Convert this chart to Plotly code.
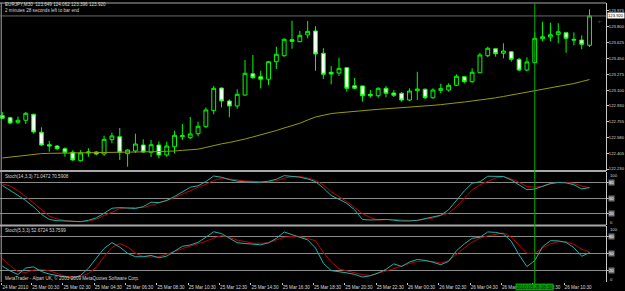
import plotly.graph_objects as go

# ---------------- data ----------------
bars = list(range(76))
opens = [122.819, 122.797, 122.746, 122.768, 122.834, 122.636, 122.498, 122.484, 122.454, 122.415,
         122.322, 122.407, 122.418, 122.396, 122.554, 122.587, 122.399, 122.429, 122.495, 122.415,
         122.495, 122.385, 122.476, 122.587, 122.576, 122.620, 122.697, 122.874, 123.124, 122.981,
         122.926, 123.047, 123.282, 123.249, 123.221, 123.415, 123.481, 123.658, 123.636, 123.710,
         123.754, 123.508, 123.298, 123.290, 123.349, 123.150, 123.147, 123.055, 123.039, 123.121,
         123.069, 123.066, 122.992, 123.095, 123.110, 123.017, 123.099, 123.102, 123.154, 123.249,
         123.194, 123.293, 123.481, 123.558, 123.508, 123.525, 123.441, 123.323, 123.404, 123.669,
         123.688, 123.717, 123.735, 123.662, 123.654, 123.596]
highs = [122.860, 122.808, 122.808, 122.860, 122.841, 122.691, 122.539, 122.492, 122.470, 122.437,
         122.437, 122.459, 122.429, 122.598, 122.631, 122.683, 122.448, 122.620, 122.558, 122.550,
         122.536, 122.532, 122.653, 122.727, 122.804, 122.752, 122.909, 123.147, 123.132, 123.000,
         123.110, 123.434, 123.489, 123.315, 123.423, 123.580, 123.673, 123.867, 123.754, 123.864,
         123.806, 123.563, 123.367, 123.459, 123.353, 123.235, 123.150, 123.102, 123.132, 123.147,
         123.102, 123.080, 123.121, 123.304, 123.121, 123.121, 123.172, 123.176, 123.276, 123.257,
         123.342, 123.514, 123.580, 123.563, 123.618, 123.530, 123.459, 123.463, 123.739, 123.856,
         123.845, 123.839, 123.739, 123.739, 123.706, 123.993]
lows = [122.782, 122.724, 122.730, 122.727, 122.620, 122.484, 122.421, 122.437, 122.366, 122.319,
        122.315, 122.366, 122.382, 122.377, 122.514, 122.330, 122.256, 122.407, 122.407, 122.363,
        122.348, 122.366, 122.404, 122.550, 122.561, 122.591, 122.686, 122.834, 122.911, 122.801,
        122.896, 123.039, 123.227, 123.121, 123.158, 123.334, 123.470, 123.558, 123.629, 123.673,
        123.315, 123.224, 123.165, 123.257, 123.084, 123.110, 122.973, 123.017, 123.017, 123.022,
        123.025, 122.973, 122.981, 122.992, 123.003, 123.006, 123.066, 123.084, 123.147, 123.176,
        123.183, 123.290, 123.463, 123.470, 123.452, 123.415, 123.312, 123.309, 123.397, 123.640,
        123.640, 123.618, 123.514, 123.596, 123.552, 123.577]
closes = [122.790, 122.738, 122.768, 122.845, 122.639, 122.495, 122.484, 122.454, 122.415, 122.330,
          122.407, 122.418, 122.396, 122.558, 122.595, 122.415, 122.440, 122.506, 122.418, 122.498,
          122.385, 122.484, 122.602, 122.598, 122.617, 122.702, 122.882, 123.121, 122.981, 122.926,
          123.055, 123.287, 123.238, 123.221, 123.415, 123.497, 123.662, 123.640, 123.706, 123.750,
          123.500, 123.276, 123.279, 123.342, 123.121, 123.121, 123.039, 123.039, 123.121, 123.066,
          123.044, 122.992, 123.091, 123.113, 123.017, 123.102, 123.117, 123.154, 123.254, 123.194,
          123.298, 123.489, 123.563, 123.503, 123.533, 123.441, 123.323, 123.412, 123.673, 123.691,
          123.713, 123.746, 123.673, 123.654, 123.607, 123.920]
ma = [122.352, 122.363, 122.374, 122.385, 122.396, 122.400, 122.403, 122.405, 122.407, 122.409,
      122.410, 122.412, 122.413, 122.415, 122.416, 122.417, 122.418, 122.418, 122.419, 122.420,
      122.421, 122.422, 122.429, 122.436, 122.442, 122.449, 122.468, 122.490, 122.508, 122.523,
      122.539, 122.561, 122.584, 122.606, 122.628, 122.655, 122.683, 122.710, 122.735, 122.771,
      122.804, 122.823, 122.842, 122.851, 122.860, 122.867, 122.876, 122.884, 122.889, 122.895,
      122.900, 122.906, 122.911, 122.918, 122.926, 122.933, 122.941, 122.948, 122.959, 122.970,
      122.981, 122.990, 123.003, 123.016, 123.031, 123.047, 123.060, 123.075, 123.091, 123.110,
      123.128, 123.147, 123.160, 123.174, 123.196, 123.218]
stoch14_main = [75.2, 66.3, 55.9, 46.0, 33.7, 19.3, 9.3, 7.0, 6.2, 5.6,
                5.2, 7.7, 12.4, 21.3, 31.1, 32.3, 31.5, 30.6, 34.2, 42.7,
                42.0, 46.2, 53.8, 62.7, 71.6, 74.5, 82.8, 93.4, 91.1, 86.5,
                83.6, 82.2, 81.8, 81.4, 83.4, 87.2, 94.2, 93.2, 91.1, 87.8,
                82.6, 70.2, 55.7, 48.4, 40.6, 28.0, 9.3, 8.3, 8.9, 9.5,
                7.9, 6.4, 6.4, 7.7, 11.0, 13.9, 17.4, 28.0, 46.6, 64.6,
                79.5, 82.4, 93.0, 93.4, 92.5, 85.7, 76.6, 66.9, 68.3, 73.3,
                78.9, 81.0, 80.1, 76.6, 68.5, 71.0472]
stoch14_signal = [78.3, 74.1, 65.2, 53.8, 41.2, 28.6, 15.9, 10.3, 7.4, 6.0,
                  5.0, 6.2, 9.7, 17.2, 23.2, 30.8, 32.1, 32.7, 32.3, 36.4,
                  40.8, 45.8, 51.8, 58.8, 65.6, 71.6, 77.6, 84.7, 89.4, 88.2,
                  85.9, 83.8, 82.8, 82.4, 82.4, 84.3, 89.2, 92.3, 92.5, 89.7,
                  85.3, 76.0, 63.1, 53.6, 43.9, 32.3, 20.7, 12.8, 8.3, 9.1,
                  9.5, 8.3, 7.2, 7.2, 9.9, 12.0, 17.2, 21.7, 34.2, 49.9,
                  66.3, 76.6, 83.2, 89.6, 92.5, 87.8, 81.2, 72.9, 72.1, 73.1,
                  78.1, 81.2, 81.2, 79.1, 74.0, 70.5908]
stoch5_main = [28.6, 20.1, 13.8, 25.2, 27.2, 19.0, 14.5, 11.8, 9.3, 7.2,
               12.2, 24.7, 42.5, 59.6, 70.0, 62.1, 51.1, 45.1, 45.1, 47.4,
               43.2, 46.2, 54.9, 63.5, 65.8, 70.5, 79.4, 89.2, 85.9, 77.8,
               69.8, 68.4, 67.0, 66.1, 69.7, 77.4, 88.7, 84.3, 80.1, 74.8,
               60.5, 33.7, 20.6, 18.9, 16.6, 13.9, 9.3, 11.6, 16.4, 22.9,
               32.6, 28.0, 35.8, 40.2, 38.6, 35.4, 31.0, 37.0, 55.6, 67.7,
               77.6, 79.4, 88.9, 88.0, 85.2, 72.5, 48.3, 27.7, 38.4, 62.8,
               73.4, 73.0, 70.4, 61.2, 45.9, 52.6724]
stoch5_signal = [42.2, 29.5, 18.9, 17.3, 21.7, 22.8, 20.3, 16.2, 10.9, 9.2,
                 10.4, 15.3, 26.6, 45.0, 61.4, 68.6, 62.3, 51.5, 45.3, 44.4,
                 45.1, 49.6, 54.9, 59.3, 63.7, 67.7, 72.5, 77.8, 82.4, 79.4,
                 74.4, 71.8, 69.0, 68.8, 69.8, 75.0, 79.5, 80.8, 80.4, 77.1,
                 73.5, 52.7, 36.2, 23.6, 19.9, 16.6, 13.4, 12.0, 15.3, 19.9,
                 24.2, 29.1, 33.2, 36.7, 37.7, 36.7, 33.9, 38.1, 49.9, 60.5,
                 70.7, 78.0, 82.0, 85.2, 87.1, 79.7, 65.3, 51.1, 51.1, 60.8,
                 67.7, 71.6, 71.6, 67.0, 58.2, 53.7599]

price_ticks = [123.975, 123.800, 123.625, 123.450, 123.275, 123.100,
               122.930, 122.755, 122.580, 122.405, 122.230]
time_tick_bars = [-0.05, 3.75, 7.75, 11.75, 15.75, 19.75, 23.75, 27.75, 31.75, 35.75,
                  39.75, 43.75, 47.75, 51.75, 55.75, 59.75, 63.75, 67.75, 71.75]
time_labels = ["24 Mar 2010", "25 Mar 00:30", "25 Mar 02:30", "25 Mar 04:30", "25 Mar 06:30",
               "25 Mar 08:30", "25 Mar 10:30", "25 Mar 12:30", "25 Mar 14:30", "25 Mar 16:30",
               "25 Mar 18:30", "25 Mar 20:30", "25 Mar 22:30", "26 Mar 00:30", "26 Mar 02:30",
               "26 Mar 04:30", "26 Mar 06:30", "26 Mar 08:30", "26 Mar 10:30"]
levels = [20, 50, 80]
current_price = 123.920
crosshair_bar = 68
crosshair_label = "2010.03.26 08:30"

header1 = "EURJPY,M30  123.649 124.062 123.396 123.920"
header2 = "2 minutes 28 seconds left to bar end"
stoch14_title = "Stoch(14,3,3) 71.0472 70.5908"
stoch5_title = "Stoch(5,3,3) 52.6724 53.7599"
footer = "MetaTrader - Alpari UK, \u00a9 2001-2009 MetaQuotes Software Corp."

# ---------------- figure ----------------
FONT = "Liberation Sans"
FS = 4.6
FS_R = 4.2
TXT = "#d8d8d8"
W, H = 625, 291
ML, MR, MT, MB = 0, 19, 3, 9
PH = H - MT - MB


def py(pix):
    """pixel row -> paper fraction"""
    return (H - MB - pix) / PH


fig = go.Figure()

fig.add_trace(go.Candlestick(
    x=bars, open=opens, high=highs, low=lows, close=closes,
    increasing=dict(line=dict(color="#00ff00", width=1), fillcolor="#000000"),
    decreasing=dict(line=dict(color="#00ff00", width=1), fillcolor="#ffffff"),
    whiskerwidth=0, hoverinfo="skip", xaxis="x", yaxis="y"))
fig.add_trace(go.Scatter(x=bars, y=ma, mode="lines", line=dict(color="#9a9a00", width=1),
                         hoverinfo="skip", xaxis="x", yaxis="y"))

fig.add_trace(go.Scatter(x=bars, y=stoch14_signal, mode="lines", line=dict(color="#c00000", width=1),
                         hoverinfo="skip", xaxis="x", yaxis="y2"))
fig.add_trace(go.Scatter(x=bars, y=stoch14_main, mode="lines", line=dict(color="#20b2aa", width=1),
                         hoverinfo="skip", xaxis="x", yaxis="y2"))
fig.add_trace(go.Scatter(x=bars, y=stoch5_signal, mode="lines", line=dict(color="#c00000", width=1),
                         hoverinfo="skip", xaxis="x", yaxis="y3"))
fig.add_trace(go.Scatter(x=bars, y=stoch5_main, mode="lines", line=dict(color="#20b2aa", width=1),
                         hoverinfo="skip", xaxis="x", yaxis="y3"))

axis_font = dict(family=FONT, size=FS, color=TXT)
right_font = dict(family=FONT, size=FS_R, color=TXT)
common_y = dict(side="right", zeroline=False, showline=True,
                linecolor="#c8c8c8", linewidth=1, ticks="outside", ticklen=2,
                tickcolor="#c8c8c8", tickfont=right_font, fixedrange=True)

fig.update_layout(
    width=W, height=H, margin=dict(l=ML, r=MR, t=MT, b=MB, pad=0, autoexpand=False),
    paper_bgcolor="#000000", plot_bgcolor="#000000", showlegend=False,
    xaxis=dict(range=[-0.294, 77.10], anchor="y3", showgrid=False, zeroline=False,
               showline=False, tickvals=time_tick_bars, ticktext=time_labels, tickangle=0,
               ticks="outside", ticklen=2, tickcolor="#c8c8c8", tickfont=axis_font,
               ticklabelposition="outside right", rangeslider=dict(visible=False),
               automargin=False, fixedrange=True),
    yaxis=dict(domain=[py(171), 1], range=[122.208, 124.063], anchor="x", showgrid=False,
               tickvals=price_ticks, ticktext=[f"{v:.3f}" for v in price_ticks],
               ticklabelstandoff=-1, automargin=False, **common_y),
    yaxis2=dict(domain=[py(225), py(172)], range=[-1.35, 101.2], anchor="x",
                tickvals=levels, showticklabels=False, showgrid=True, gridcolor="#8a8a8a",
                gridwidth=1, automargin=False, **common_y),
    yaxis3=dict(domain=[0, py(226)], range=[0.53, 99.3], anchor="x",
                tickvals=levels, showticklabels=False, showgrid=True, gridcolor="#8a8a8a",
                gridwidth=1, automargin=False, **common_y),
)

shapes = []
# panel separators and borders
for pix in (171, 225.5):
    shapes.append(dict(type="line", xref="paper", yref="paper", x0=0, x1=1, y0=py(pix), y1=py(pix),
                       line=dict(color="#a8a8a8", width=2)))
shapes.append(dict(type="line", xref="paper", yref="paper", x0=0, x1=1, y0=1, y1=1,
                   line=dict(color="#a8a8a8", width=1)))
shapes.append(dict(type="line", xref="paper", yref="paper", x0=0.002, x1=0.002, y0=0, y1=1,
                   line=dict(color="#a8a8a8", width=1)))
# current price line
shapes.append(dict(type="line", xref="paper", yref="y", x0=0, x1=1, y0=current_price, y1=current_price,
                   line=dict(color="#6a6a6a", width=1)))
# crosshair
shapes.append(dict(type="line", xref="x", yref="paper", x0=crosshair_bar, x1=crosshair_bar,
                   y0=py(285), y1=1, line=dict(color="#00b400", width=1)))
fig.update_layout(shapes=shapes)

ann = []


def text(x, ypix, s, **kw):
    d = dict(xref="paper", yref="paper", x=x, y=py(ypix), text=s, showarrow=False,
             xanchor="left", yanchor="middle", font=dict(family=FONT, size=FS, color=TXT))
    d.update(kw)
    ann.append(d)


text(3 / 606, 5, header1)
text(3 / 606, 10, header2)
text(3 / 606, 176, stoch14_title)
text(3 / 606, 230.5, stoch5_title)
text(3 / 606, 278.3, footer)

# scale labels for indicator windows
for ypix, s in ((175, "100"), (222, "0"), (229, "100"), (279, "0")):
    ann.append(dict(xref="paper", yref="paper", x=1.0, xshift=2, y=py(ypix), text=s,
                    showarrow=False, xanchor="left", yanchor="middle",
                    font=dict(family=FONT, size=FS_R, color=TXT)))
for axis in ("y2", "y3"):
    for v in levels:
        ann.append(dict(xref="paper", yref=axis, x=1.0, xshift=2, y=v, text=str(v), showarrow=False,
                        xanchor="left", yanchor="middle", bgcolor="#707070", borderpad=0,
                        font=dict(family=FONT, size=FS_R, color="#ffffff")))

# current price box
ann.append(dict(xref="paper", yref="y", x=1.0, xshift=1, y=current_price, text=f"{current_price:.3f}",
                showarrow=False, xanchor="left", yanchor="middle", bgcolor="#ffffff", borderpad=0,
                font=dict(family=FONT, size=FS_R, color="#000000")))
# arrow marker near the last bar
ann.append(dict(xref="x", yref="y", x=76.3, y=123.864, text="\u2039-", showarrow=False,
                font=dict(family=FONT, size=6, color="#d06000")))
# crosshair time label
ann.append(dict(xref="x", yref="paper", x=crosshair_bar, y=py(287), text=crosshair_label,
                showarrow=False, xanchor="center", yanchor="middle", bgcolor="#00a000", borderpad=0.5,
                font=dict(family=FONT, size=FS, color="#002000")))

fig.update_layout(annotations=ann)

fig.write_html("out.html", config=dict(displayModeBar=False, staticPlot=True))
